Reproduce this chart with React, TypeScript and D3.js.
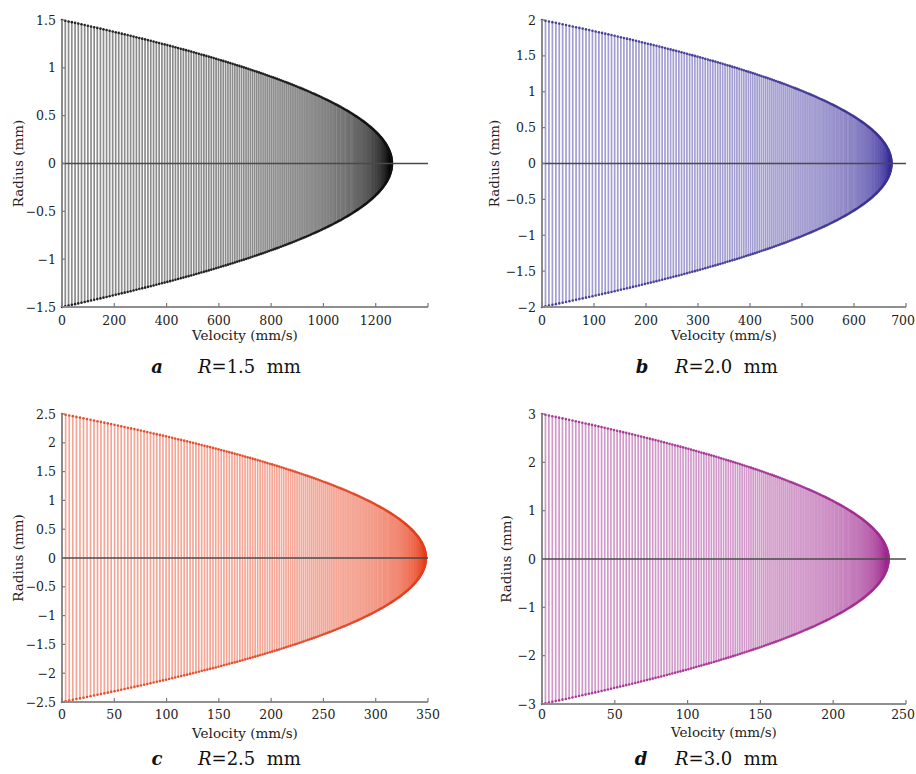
import React from 'react';
import * as d3 from 'd3';

// ---- data ----
const PANEL_LETTERS = ['a', 'b', 'c', 'd'];
const TUBE_RADIUS_MM = [1.5, 2.0, 2.5, 3.0];
const PEAK_VELOCITY = [1262, 672, 348, 238]; // mm/s at the tube centre
const X_MAX = [1400, 700, 350, 250];
const X_TICKS = [
  [0, 200, 400, 600, 800, 1000, 1200, 1400],
  [0, 100, 200, 300, 400, 500, 600, 700],
  [0, 50, 100, 150, 200, 250, 300, 350],
  [0, 50, 100, 150, 200, 250],
];
const X_TICK_LABELED = [
  [0, 200, 400, 600, 800, 1000, 1200],
  [0, 100, 200, 300, 400, 500, 600, 700],
  [0, 50, 100, 150, 200, 250, 300, 350],
  [0, 50, 100, 150, 200, 250],
];
const Y_TICKS = [
  [-1.5, -1, -0.5, 0, 0.5, 1, 1.5],
  [-2, -1.5, -1, -0.5, 0, 0.5, 1, 1.5, 2],
  [-2.5, -2, -1.5, -1, -0.5, 0, 0.5, 1, 1.5, 2, 2.5],
  [-3, -2, -1, 0, 1, 2, 3],
];
const STEMS_PER_HALF = 200;

// ---- layout / style ----
const LEFT = [62, 542, 62, 542];
const RIGHT = [428, 906, 428, 906];
const TOP = [20, 20, 414, 414];
const BOTTOM = [307, 307, 702, 704];
const TICKLABEL_Y = [320, 320, 714, 714];
const XLABEL_Y = [335, 335, 733, 732];
const CAPTION_Y = [366, 366, 758, 758];
const YLABEL_X = [18, 494, 18, 506];
const LETTER_X = [157, 642, 157, 641];
const RTEXT_X = [198, 675, 198, 675];
const STEM_COLOR = ['#000000', '#34289a', '#e83c18', '#9c1f8a'];
const DOT_COLOR = ['#111111', '#3a3290', '#e0401e', '#a02a90'];
const PAGE_W = 916;

const FONT = 'DejaVu Serif, serif';

function fmt(v: number) {
  const s = String(Math.abs(v));
  return v < 0 ? '\u2212' + s : s;
}

function Panel({ i }: { i: number }) {
  const R = TUBE_RADIUS_MM[i];
  const vmax = PEAK_VELOCITY[i];
  const x = d3.scaleLinear().domain([0, X_MAX[i]]).range([LEFT[i], RIGHT[i]]);
  const y = d3.scaleLinear().domain([-R, R]).range([BOTTOM[i], TOP[i]]);
  // Poiseuille profile sampled uniformly in radius
  const stems = d3.range(-STEMS_PER_HALF, STEMS_PER_HALF + 1).map((k) => {
    const r = (R * k) / STEMS_PER_HALF;
    return { r, v: vmax * (1 - (r / R) * (r / R)) };
  });
  const y0 = y(0);
  return (
    <g>
      <g>
        {stems.map((s, k) => (
          <line
            key={k}
            x1={x(s.v)}
            x2={x(s.v)}
            y1={y0}
            y2={y(s.r)}
            stroke={STEM_COLOR[i]}
            strokeOpacity={0.45}
            strokeWidth={1.7}
          />
        ))}
      </g>
      <g>
        {stems.map((s, k) => (
          <circle key={k} cx={x(s.v)} cy={y(s.r)} r={1.3} fill={DOT_COLOR[i]} fillOpacity={0.9} />
        ))}
      </g>
      {/* axes */}
      <line x1={LEFT[i]} x2={LEFT[i]} y1={TOP[i]} y2={BOTTOM[i]} stroke="#8a8a8a" strokeWidth={2} />
      <line x1={LEFT[i]} x2={RIGHT[i]} y1={BOTTOM[i]} y2={BOTTOM[i]} stroke="#8f8f8f" strokeWidth={2} />
      {/* zero line */}
      <line x1={LEFT[i]} x2={RIGHT[i]} y1={y0} y2={y0} stroke="#4a4a4a" strokeWidth={1.4} />
      {X_TICKS[i].map((t) => (
        <line key={'xt' + t} x1={x(t)} x2={x(t)} y1={BOTTOM[i]} y2={BOTTOM[i] - 4} stroke="#7a7a7a" strokeWidth={1.2} />
      ))}
      {Y_TICKS[i].map((t) => (
        <line key={'yt' + t} x1={LEFT[i]} x2={LEFT[i] + 3} y1={y(t)} y2={y(t)} stroke="#7a7a7a" strokeWidth={1.2} />
      ))}
      {X_TICK_LABELED[i].map((t) => {
        const px = x(t);
        const overflow = px + 12 > PAGE_W;
        return (
          <text
            key={'xl' + t}
            x={overflow ? PAGE_W - 1 : px}
            y={TICKLABEL_Y[i]}
            textAnchor={overflow ? 'end' : 'middle'}
            dominantBaseline="central"
            fontSize={12.5}
            fontFamily={FONT}
            fill="#222"
          >
            {fmt(t)}
          </text>
        );
      })}
      {Y_TICKS[i].map((t) => (
        <text
          key={'yl' + t}
          x={LEFT[i] - 6}
          y={y(t)}
          textAnchor="end"
          dominantBaseline="central"
          fontSize={12.5}
          fontFamily={FONT}
          fill="#222"
        >
          {fmt(t)}
        </text>
      ))}
      <text
        x={(LEFT[i] + RIGHT[i]) / 2}
        y={XLABEL_Y[i]}
        textAnchor="middle"
        dominantBaseline="central"
        fontSize={13.5}
        fontFamily={FONT}
        fill="#222"
      >
        Velocity (mm/s)
      </text>
      <text
        transform={`translate(${YLABEL_X[i]},${y0}) rotate(-90)`}
        textAnchor="middle"
        dominantBaseline="central"
        fontSize={13.5}
        fontFamily={FONT}
        fill="#222"
      >
        Radius (mm)
      </text>
      <text
        x={LETTER_X[i]}
        y={CAPTION_Y[i]}
        textAnchor="middle"
        dominantBaseline="central"
        fontSize={18}
        fontFamily={FONT}
        fontWeight="bold"
        fontStyle="italic"
        fill="#111"
      >
        {PANEL_LETTERS[i]}
      </text>
      <text x={RTEXT_X[i]} y={CAPTION_Y[i]} dominantBaseline="central" fontSize={18} fontFamily={FONT} fill="#111">
        <tspan fontStyle="italic">R</tspan>
        <tspan>{`=${R.toFixed(1)}\u00a0\u00a0mm`}</tspan>
      </text>
    </g>
  );
}

export default function App() {
  return (
    <svg
      width={916}
      height={774}
      viewBox="0 0 916 774"
      style={{ position: 'absolute', left: 0, top: 0, background: '#fff' }}
    >
      <rect x={0} y={0} width={916} height={774} fill="#fff" />
      {PANEL_LETTERS.map((_, i) => (
        <Panel key={i} i={i} />
      ))}
    </svg>
  );
}
